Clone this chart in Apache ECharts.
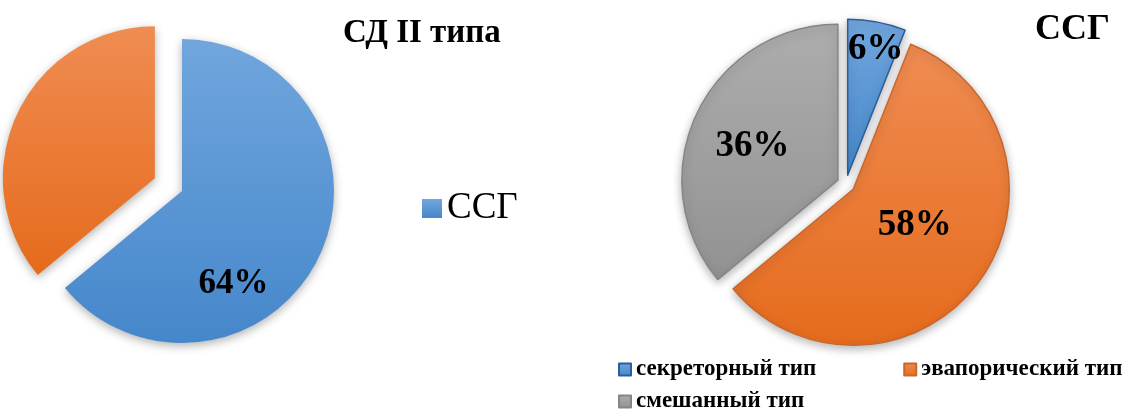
<!DOCTYPE html>
<html>
<head>
<meta charset="utf-8">
<script src="https://cdn.jsdelivr.net/npm/echarts@6/dist/echarts.min.js"></script>
<style>
  html, body { margin: 0; padding: 0; background: #fff; }
  #chart { width: 1144px; height: 410px; }
</style>
</head>
<body>
<div id="chart"></div>
<script>
// данные
var leftTitle = 'СД II типа';
var leftNames = ['ССГ', 'без ССГ'];
var leftValues = [64, 36];

var rightTitle = 'ССГ';
var rightNames = ['секреторный тип', 'эвапорический тип', 'смешанный тип'];
var rightValues = [6, 58, 36];

var serif = "'Liberation Serif', 'Times New Roman', serif";

function grad(top, bottom) {
	return {
		type : 'linear', x : 0, y : 0, x2 : 0, y2 : 1,
		colorStops : [ { offset : 0, color : top }, { offset : 1, color : bottom } ]
	};
}
var blue = grad('#71a6dd', '#4587cb');
var orange = grad('#f08c52', '#e56b1c');
var gray = grad('#adadad', '#929292');

// сдвиги подписей (как в исходной диаграмме)
var leftLabelShift = [ [ -20, 59 ], [ 0, 0 ] ];
var rightLabelShift = [ [ 13, -46 ], [ -4, -11 ], [ -12, 1 ] ];

var chart = echarts.init(document.getElementById('chart'));
chart.setOption({
	animation : false,
	title : [ {
		text : leftTitle,
		left : 343,
		top : 17,
		padding : 0,
		textStyle : { fontFamily : serif, fontSize : 33, fontWeight : 'bold', color : '#000' }
	}, {
		text : rightTitle,
		left : 1035,
		top : 12,
		padding : 0,
		textStyle : { fontFamily : serif, fontSize : 36, fontWeight : 'bold', color : '#000' }
	} ],
	legend : [ {
		data : [ leftNames[0] ],
		left : 422,
		top : 190,
		padding : 0,
		icon : 'rect',
		itemWidth : 20,
		itemHeight : 19,
		textStyle : { fontFamily : serif, fontSize : 37, color : '#000' }
	}, {
		data : [ rightNames[0], rightNames[1] ],
		left : 618,
		top : 358,
		padding : 0,
		icon : 'rect',
		itemWidth : 12,
		itemHeight : 12,
		itemGap : 87,
		textStyle : { fontFamily : serif, fontSize : 23, fontWeight : 'bold', color : '#000' }
	}, {
		data : [ rightNames[2] ],
		left : 618,
		top : 390,
		padding : 0,
		icon : 'rect',
		itemWidth : 12,
		itemHeight : 12,
		textStyle : { fontFamily : serif, fontSize : 23, fontWeight : 'bold', color : '#000' }
	} ],
	series : [ {
		name : 'left',
		type : 'pie',
		center : [ 182, 191 ],
		radius : 152,
		startAngle : 90,
		selectedMode : 'single',
		selectedOffset : 30,
		emphasis : { disabled : true },
		label : {
			show : true,
			position : 'inside',
			formatter : '{d}%',
			fontFamily : serif,
			fontSize : 35,
			fontWeight : 'bold',
			color : '#000'
		},
		labelLayout : function(p) {
			var s = leftLabelShift[p.dataIndex];
			return { dx : s[0], dy : s[1] };
		},
		itemStyle : {
			borderWidth : 0,
			shadowBlur : 10,
			shadowOffsetY : 3,
			shadowColor : 'rgba(0,0,0,0.3)'
		},
		data : [ {
			name : leftNames[0],
			value : leftValues[0],
			itemStyle : { color : blue }
		}, {
			name : leftNames[1],
			value : leftValues[1],
			selected : true,
			label : { show : false },
			itemStyle : { color : orange }
		} ]
	}, {
		name : 'right',
		type : 'pie',
		center : [ 846, 184 ],
		radius : 156,
		startAngle : 90,
		selectedMode : 'multiple',
		selectedOffset : 9,
		emphasis : { disabled : true },
		label : {
			show : true,
			position : 'inside',
			formatter : '{d}%',
			fontFamily : serif,
			fontSize : 37,
			fontWeight : 'bold',
			color : '#000'
		},
		labelLayout : function(p) {
			var s = rightLabelShift[p.dataIndex];
			return { dx : s[0], dy : s[1] };
		},
		itemStyle : {
			borderWidth : 1.5,
			shadowBlur : 10,
			shadowOffsetY : 3,
			shadowColor : 'rgba(0,0,0,0.3)'
		},
		data : [ {
			name : rightNames[0],
			value : rightValues[0],
			selected : true,
			itemStyle : { color : blue, borderColor : '#2c5d9a' }
		}, {
			name : rightNames[1],
			value : rightValues[1],
			selected : true,
			itemStyle : { color : orange, borderColor : '#c9662c' }
		}, {
			name : rightNames[2],
			value : rightValues[2],
			selected : true,
			itemStyle : { color : gray, borderColor : '#858585' }
		} ]
	} ]
});
</script>
</body>
</html>
